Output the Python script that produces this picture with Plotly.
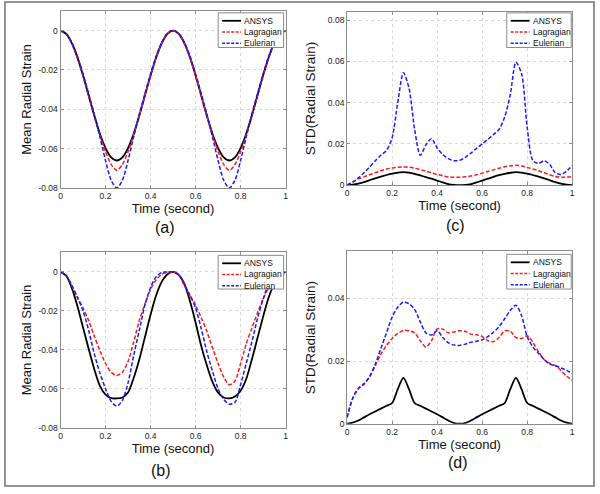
import plotly.graph_objects as go

# ---------------- data ----------------
time = [0.0, 0.025, 0.05, 0.075, 0.1, 0.125, 0.15, 0.175, 0.2, 0.225, 0.25,
        0.275, 0.3, 0.325, 0.35, 0.375, 0.4, 0.425, 0.45, 0.475, 0.5,
        0.525, 0.55, 0.575, 0.6, 0.625, 0.65, 0.675, 0.7, 0.725, 0.75,
        0.775, 0.8, 0.825, 0.85, 0.875, 0.9, 0.925, 0.95, 0.975, 1.0]

series_names = ["ANSYS", "Lagragian", "Eulerian"]

# (a) Mean radial strain
a_ansys = [0, -0.0016, -0.0063, -0.0136, -0.0228, -0.0330, -0.0432, -0.0524, -0.0597, -0.0644, -0.0660,
           -0.0644, -0.0597, -0.0524, -0.0432, -0.0330, -0.0228, -0.0136, -0.0063, -0.0016, 0,
           -0.0016, -0.0063, -0.0136, -0.0228, -0.0330, -0.0432, -0.0524, -0.0597, -0.0644, -0.0660,
           -0.0644, -0.0597, -0.0524, -0.0432, -0.0330, -0.0228, -0.0136, -0.0063, -0.0016, 0]
a_lag = [0, -0.0016, -0.0063, -0.0136, -0.0228, -0.0330, -0.0434, -0.0530, -0.0615, -0.0680, -0.0710,
         -0.0680, -0.0615, -0.0530, -0.0434, -0.0330, -0.0228, -0.0136, -0.0063, -0.0016, 0,
         -0.0016, -0.0063, -0.0136, -0.0228, -0.0330, -0.0434, -0.0530, -0.0615, -0.0680, -0.0710,
         -0.0680, -0.0615, -0.0530, -0.0434, -0.0330, -0.0228, -0.0136, -0.0063, -0.0016, 0]
a_eul = [0, -0.0015, -0.0060, -0.0130, -0.0220, -0.0320, -0.0425, -0.0540, -0.0660, -0.0760, -0.0800,
         -0.0760, -0.0660, -0.0540, -0.0425, -0.0320, -0.0220, -0.0130, -0.0060, -0.0015, 0,
         -0.0015, -0.0060, -0.0130, -0.0220, -0.0320, -0.0425, -0.0540, -0.0660, -0.0760, -0.0800,
         -0.0760, -0.0660, -0.0540, -0.0425, -0.0320, -0.0220, -0.0130, -0.0060, -0.0015, 0]

# (b) Mean radial strain
b_ansys = [0, -0.0020, -0.0082, -0.0175, -0.0285, -0.0395, -0.0500, -0.0585, -0.0630, -0.0648, -0.0650,
           -0.0645, -0.0620, -0.0545, -0.0450, -0.0335, -0.0220, -0.0120, -0.0050, -0.0012, 0,
           -0.0015, -0.0060, -0.0150, -0.0260, -0.0380, -0.0480, -0.0565, -0.0620, -0.0645, -0.0650,
           -0.0640, -0.0610, -0.0550, -0.0450, -0.0340, -0.0230, -0.0130, -0.0060, -0.0015, 0]
b_lag = [0, -0.0018, -0.0070, -0.0130, -0.0185, -0.0250, -0.0330, -0.0405, -0.0470, -0.0515, -0.0532,
         -0.0515, -0.0460, -0.0360, -0.0250, -0.0165, -0.0090, -0.0040, -0.0012, -0.0002, 0,
         -0.0015, -0.0070, -0.0120, -0.0170, -0.0235, -0.0305, -0.0390, -0.0470, -0.0540, -0.0580,
         -0.0560, -0.0470, -0.0370, -0.0290, -0.0210, -0.0140, -0.0080, -0.0035, -0.0005, 0]
b_eul = [0, -0.0018, -0.0070, -0.0130, -0.0200, -0.0300, -0.0420, -0.0520, -0.0600, -0.0665, -0.0690,
         -0.0660, -0.0570, -0.0430, -0.0300, -0.0170, -0.0080, -0.0025, -0.0003, 0, 0,
         -0.0015, -0.0065, -0.0120, -0.0185, -0.0290, -0.0410, -0.0510, -0.0600, -0.0655, -0.0680,
         -0.0670, -0.0580, -0.0470, -0.0360, -0.0240, -0.0140, -0.0060, -0.0015, 0, 0]

# (c) STD of radial strain
c_ansys = [0, 0.0002, 0.0007, 0.0015, 0.0024, 0.0033, 0.0041, 0.0049, 0.0056, 0.0061, 0.0063,
           0.0061, 0.0055, 0.0047, 0.0039, 0.0031, 0.0022, 0.0013, 0.0005, 0.0001, 0,
           0.0001, 0.0005, 0.0013, 0.0022, 0.0031, 0.0040, 0.0048, 0.0055, 0.0060, 0.0063,
           0.0061, 0.0056, 0.0049, 0.0041, 0.0033, 0.0024, 0.0015, 0.0007, 0.0002, 0]
c_lag = [0, 0.0015, 0.0030, 0.0040, 0.0050, 0.0060, 0.0070, 0.0078, 0.0083, 0.0087, 0.0088,
         0.0087, 0.0082, 0.0075, 0.0068, 0.0060, 0.0052, 0.0045, 0.0040, 0.0038, 0.0038,
         0.0040, 0.0044, 0.0050, 0.0058, 0.0066, 0.0074, 0.0082, 0.0089, 0.0094, 0.0096,
         0.0093, 0.0086, 0.0078, 0.0070, 0.0060, 0.0050, 0.0042, 0.0038, 0.0039, 0.0041]
c_eul = [0, 0.0015, 0.0035, 0.0060, 0.0088, 0.0118, 0.0145, 0.0168, 0.0230, 0.0400, 0.0545,
         0.0470, 0.0270, 0.0145, 0.0195, 0.0225, 0.0180, 0.0148, 0.0128, 0.0118, 0.0120,
         0.0135, 0.0155, 0.0178, 0.0200, 0.0222, 0.0245, 0.0270, 0.0330, 0.0440, 0.0595,
         0.0540, 0.0280, 0.0120, 0.0105, 0.0118, 0.0100, 0.0060, 0.0052, 0.0068, 0.0095]

# (d) STD of radial strain
d_ansys = [0, 0.0003, 0.0010, 0.0020, 0.0030, 0.0039, 0.0048, 0.0057, 0.0066, 0.0110, 0.0146,
           0.0110, 0.0066, 0.0057, 0.0048, 0.0039, 0.0030, 0.0020, 0.0010, 0.0002, 0,
           0.0002, 0.0010, 0.0020, 0.0030, 0.0039, 0.0048, 0.0057, 0.0066, 0.0110, 0.0146,
           0.0110, 0.0066, 0.0057, 0.0048, 0.0039, 0.0030, 0.0020, 0.0010, 0.0003, 0]
d_lag = [0.0020, 0.0080, 0.0112, 0.0125, 0.0150, 0.0185, 0.0222, 0.0250, 0.0272, 0.0288, 0.0298,
         0.0297, 0.0290, 0.0265, 0.0245, 0.0265, 0.0303, 0.0302, 0.0290, 0.0293, 0.0297,
         0.0295, 0.0286, 0.0284, 0.0278, 0.0265, 0.0262, 0.0275, 0.0296, 0.0295, 0.0275,
         0.0272, 0.0281, 0.0260, 0.0230, 0.0205, 0.0193, 0.0185, 0.0170, 0.0152, 0.0138]
d_eul = [0.0020, 0.0082, 0.0112, 0.0128, 0.0150, 0.0190, 0.0240, 0.0290, 0.0340, 0.0372, 0.0388,
         0.0383, 0.0365, 0.0325, 0.0290, 0.0283, 0.0297, 0.0275, 0.0258, 0.0251, 0.0250,
         0.0254, 0.0260, 0.0263, 0.0268, 0.0278, 0.0292, 0.0310, 0.0335, 0.0362, 0.0378,
         0.0345, 0.0278, 0.0245, 0.0225, 0.0205, 0.0190, 0.0185, 0.0178, 0.0170, 0.0160]

x_tick_vals = [0, 0.2, 0.4, 0.6, 0.8, 1]
x_tick_text = ["0", "0.2", "0.4", "0.6", "0.8", "1"]
mean_tick_vals = [-0.08, -0.06, -0.04, -0.02, 0]
mean_tick_text = ["-0.08", "-0.06", "-0.04", "-0.02", "0"]
std_c_tick_vals = [0, 0.02, 0.04, 0.06, 0.08]
std_c_tick_text = ["0", "0.02", "0.04", "0.06", "0.08"]
std_d_tick_vals = [0, 0.02, 0.04]
std_d_tick_text = ["0", "0.02", "0.04"]

panel_labels = ["(a)", "(c)", "(b)", "(d)"]
x_title = "Time (second)"
y_titles = ["Mean Radial Strain", "STD(Radial Strain)", "Mean Radial Strain", "STD(Radial Strain)"]

# ---------------- styling ----------------
W, H = 600, 494
FONT = "Arial, Liberation Sans, sans-serif"
styles = [dict(color="#000000", width=1.8, dash="solid"),
          dict(color="#ff1a1a", width=1.5, dash="4px,2px"),
          dict(color="#1a1aff", width=1.5, dash="4px,2px")]
legend_dash = ["solid", "3px,1.5px", "3px,1.5px"]


def px_x(p):
    return p / W


def px_y(p):
    return 1 - p / H


# plot-area pixel boxes: left, right, top, bottom
boxes = [(59, 286, 11, 190), (348, 575, 12, 187), (59, 286, 255, 432), (348, 575, 254, 428)]
y_ranges = [[-0.08, 0.01], [0, 0.084], [-0.08, 0.01], [0, 0.055]]
y_ticks = [(mean_tick_vals, mean_tick_text), (std_c_tick_vals, std_c_tick_text),
           (mean_tick_vals, mean_tick_text), (std_d_tick_vals, std_d_tick_text)]
y_standoff = [3, 9, 3, 9]
y_title_size = [13, 13.5, 13, 13.5]
panel_data = [(a_ansys, a_lag, a_eul), (c_ansys, c_lag, c_eul),
              (b_ansys, b_lag, b_eul), (d_ansys, d_lag, d_eul)]
label_pos = [(164, 230), (457, 228), (160, 475), (460, 467)]
legend_box = [(218, 284, 13, 48), (509, 574, 13, 48), (218, 284, 258, 292), (509, 574, 257, 292)]

fig = go.Figure()
layout = dict(width=W, height=H, margin=dict(l=0, r=0, t=0, b=0),
              paper_bgcolor="white", plot_bgcolor="white",
              font=dict(family=FONT, color="#111111"), showlegend=False)
annotations = []
shapes = []

for i in range(4):
    sfx = "" if i == 0 else str(i + 1)
    xa, ya = "x" + sfx, "y" + sfx
    for name, ys, st in zip(series_names, panel_data[i], styles):
        fig.add_trace(go.Scatter(x=time, y=ys, name=name, mode="lines",
                                 line=dict(color=st["color"], width=st["width"], dash=st["dash"],
                                           shape="spline", smoothing=0.8),
                                 xaxis=xa, yaxis=ya))
    l, r, t, b = boxes[i]
    common = dict(showline=True, linecolor="#8c8c8c", linewidth=1, mirror="ticks",
                  ticks="inside", ticklen=3, tickcolor="#8c8c8c",
                  showgrid=True, gridcolor="#d9d9d9", griddash="dot", gridwidth=1,
                  zeroline=False, tickfont=dict(size=8.5, family=FONT, color="#222222"))
    layout["xaxis" + sfx] = dict(domain=[px_x(l), px_x(r)], range=[0, 1], anchor=ya,
                                 tickvals=x_tick_vals, ticktext=x_tick_text,
                                 title=dict(text=x_title, font=dict(size=13, family=FONT, color="#111111"),
                                            standoff=3),
                                 **common)
    layout["yaxis" + sfx] = dict(domain=[px_y(b), px_y(t)], range=y_ranges[i], anchor=xa,
                                 tickvals=y_ticks[i][0], ticktext=y_ticks[i][1],
                                 title=dict(text=y_titles[i],
                                            font=dict(size=y_title_size[i], family=FONT, color="#111111"),
                                            standoff=y_standoff[i]),
                                 **common)

    # legend box (drawn in the figure's paper space)
    bl, br, bt, bb = legend_box[i]
    shapes.append(dict(type="rect", xref="paper", yref="paper", layer="above",
                       x0=px_x(bl), x1=px_x(br), y0=px_y(bb), y1=px_y(bt),
                       line=dict(color="#8c8c8c", width=1), fillcolor="white"))
    for k, (name, st) in enumerate(zip(series_names, styles)):
        yy = bt + 8 + 11.3 * k
        shapes.append(dict(type="line", xref="paper", yref="paper", layer="above",
                           x0=px_x(bl + 4), x1=px_x(bl + 23), y0=px_y(yy), y1=px_y(yy),
                           line=dict(color=st["color"], width=st["width"], dash=legend_dash[k])))
        annotations.append(dict(text=name, x=px_x(bl + 24.5), y=px_y(yy), xref="paper", yref="paper",
                                showarrow=False, xanchor="left", yanchor="middle",
                                font=dict(size=8.5, family=FONT, color="#111111")))

    cx, cy = label_pos[i]
    annotations.append(dict(text=panel_labels[i], x=px_x(cx), y=px_y(cy), xref="paper", yref="paper",
                            showarrow=False, xanchor="center", yanchor="middle",
                            font=dict(size=16, family=FONT, color="#111111")))

shapes.append(dict(type="rect", xref="paper", yref="paper",
                   x0=px_x(3), x1=px_x(597), y0=px_y(491), y1=px_y(2),
                   line=dict(color="#707070", width=1.5), fillcolor="rgba(0,0,0,0)"))
layout["annotations"] = annotations
layout["shapes"] = shapes
fig.update_layout(**layout)
fig.write_html("out.html", config={"displayModeBar": False},
               post_script="document.body.style.margin='0';")
